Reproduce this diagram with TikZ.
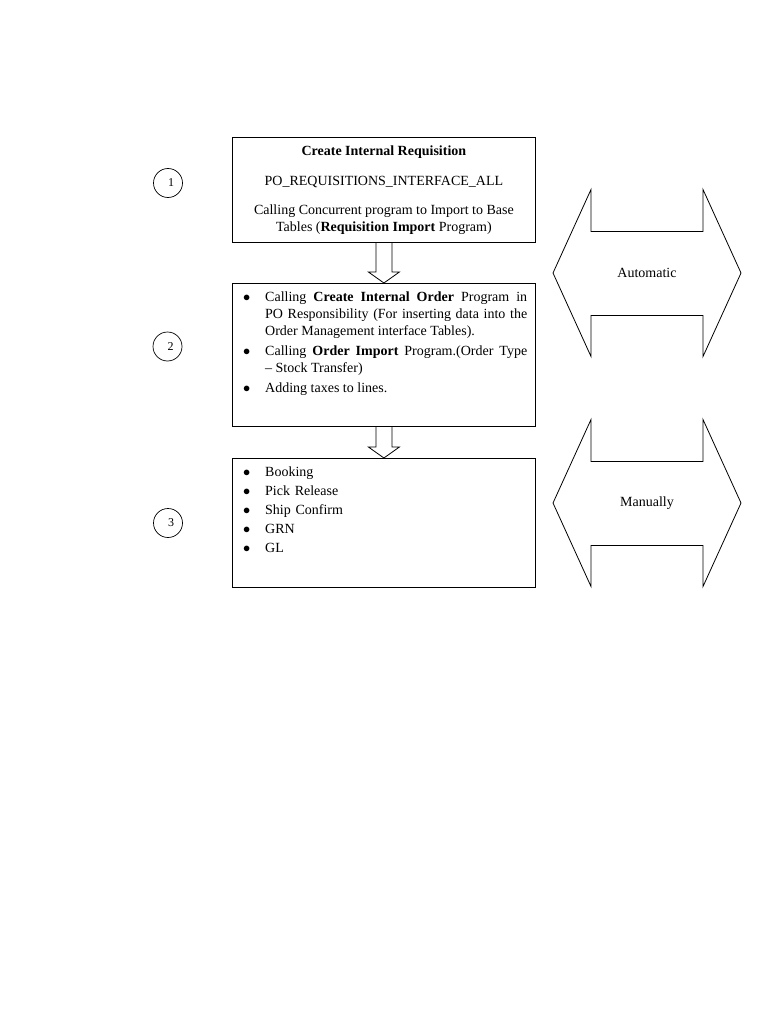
\documentclass[tikz,border=0pt]{standalone}
\usepackage{fontspec}
\setmainfont{Liberation Serif}
\usepackage{enumitem}
\usetikzlibrary{positioning,calc}

\hyphenpenalty=10000
\setlist[itemize]{label=$\bullet$, leftmargin=24pt, labelsep=15pt, topsep=0pt, partopsep=0pt, parsep=0pt}

\tikzset{
  stepbox/.style={draw, line width=0.8pt, minimum width=303pt, inner sep=0pt, anchor=north west},
  steptext/.style={anchor=north west, inner sep=0pt, text width=286pt, align=justify},
  numcirc/.style={draw, circle, line width=0.7pt, minimum size=29pt, inner sep=0pt,
                  font=\fontsize{12pt}{14pt}\selectfont},
  blockline/.style={line width=0.8pt, line join=miter},
}

% hollow block arrow from one box down to the next
\newcommand{\blockarrow}[2]{%
  \draw[blockline] ($(#1.south)+(-8,0)$) -- ($(#2.north)+(-8,-11)$) -- ($(#2.north)+(-15.5,-11)$)
    -- (#2.north) -- ($(#2.north)+(15.5,-11)$) -- ($(#2.north)+(8,-11)$) -- ($(#1.south)+(8,0)$);}

% left-right double arrow round a label node
\newcommand{\sidearrow}[1]{%
  \draw[blockline] ($(#1)+(-94,0)$) -- ($(#1)+(-56,-83.5)$) -- ($(#1)+(-56,-41.5)$)
    -- ($(#1)+(56,-41.5)$) -- ($(#1)+(56,-83.5)$) -- ($(#1)+(94,0)$)
    -- ($(#1)+(56,83.5)$) -- ($(#1)+(56,42.5)$) -- ($(#1)+(-56,42.5)$)
    -- ($(#1)+(-56,83.5)$) -- cycle;}

\begin{document}
\begin{tikzpicture}[x=1pt, y=-1pt, every node/.append style={font=\fontsize{14pt}{17pt}\selectfont}]
  \useasboundingbox (0,0) rectangle (768,1024);

  % step 1
  \node[stepbox, minimum height=105pt, align=center] (requisition) at (232,137)
    {\textbf{Create Internal Requisition}\\[13pt]
     PO\_REQUISITIONS\_INTERFACE\_ALL\\[12pt]
     Calling Concurrent program to Import to Base\\
     Tables (\textbf{Requisition Import} Program)};

  % step 2
  \node[stepbox, minimum height=143pt] (order) at (232,283) {};
  \node[steptext, below right=1pt and 9pt of order.north west] (orderlist) {%
    \begin{itemize}[itemsep=3pt]
      \item Calling \textbf{Create Internal Order} Program in\linebreak
            PO Responsibility (For inserting data into the\linebreak
            Order Management interface Tables).
      \item Calling \textbf{Order Import} Program.(Order Type\linebreak
            -- Stock Transfer)
      \item Adding taxes to lines.
    \end{itemize}};

  % step 3
  \node[stepbox, minimum height=129pt] (shipping) at (232,458) {};
  \node[steptext, align=left, below right=1pt and 9pt of shipping.north west] (shiplist) {%
    \begin{itemize}[itemsep=2pt]
      \item Booking
      \item Pick Release
      \item Ship Confirm
      \item GRN
      \item GL
    \end{itemize}};

  \blockarrow{requisition}{order}
  \blockarrow{order}{shipping}

  % step numbers
  \node[numcirc] (one)   at (168,183)     {\hspace*{6pt}1};
  \node[numcirc] (two)   at (167.5,346.5) {\hspace*{6pt}2};
  \node[numcirc] (three) at (168,523)     {\hspace*{6pt}3};

  % side arrows
  \node (automatic) at (647,273) {Automatic};
  \sidearrow{automatic}
  \node (manually) at (647,503) {Manually};
  \sidearrow{manually}
\end{tikzpicture}
\end{document}
